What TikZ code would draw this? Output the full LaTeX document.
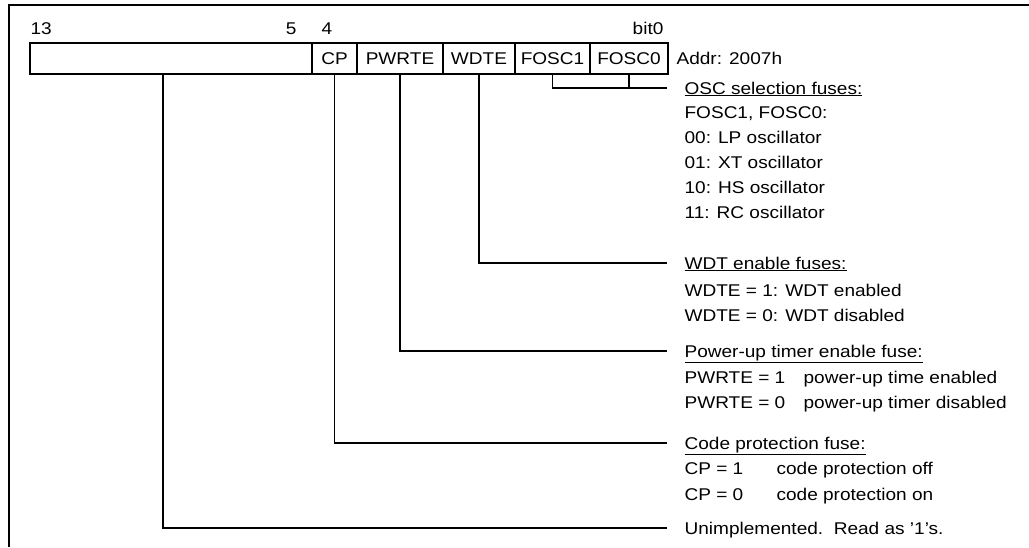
\documentclass[tikz,border=0pt]{standalone}
\usepackage{fontspec}
\setmainfont{Liberation Sans}[FakeStretch=1.12]
\usetikzlibrary{positioning}

\begin{document}
\begin{tikzpicture}[x=1pt, y=-1pt, line width=1.2pt]
\tikzstyle{cell} = [rectangle, draw, minimum height=31pt, inner sep=0pt, outer sep=0pt, font=\fontsize{17}{19}\selectfont]
\tikzstyle{txt} = [inner sep=0pt, anchor=base west, font=\fontsize{17}{19}\selectfont]
\tikzstyle{leader} = [line width=1.2pt]

\useasboundingbox (0,0) rectangle (1029,547);
\draw (1029,5) -- (9,5) -- (9,547);

% register cells
\node (unused) [cell, anchor=west, minimum width=282pt] at (30,58.5) {};
\node (cp) [cell, minimum width=45pt, right=0pt of unused] {CP};
\node (pwrte) [cell, minimum width=86pt, right=0pt of cp] {PWRTE};
\node (wdte) [cell, minimum width=72pt, right=0pt of pwrte] {WDTE};
\node (fosca) [cell, minimum width=75pt, right=0pt of wdte] {FOSC1};
\node (foscb) [cell, minimum width=78pt, right=0pt of fosca] {FOSC0};

% bit numbers
\node (b13) [txt] at (30,34) {13};
\node (b5) [txt, anchor=base east] at (297,34) {5};
\node (b4) [txt] at (321,34) {4};
\node (b0) [txt, anchor=base east] at (664,34) {bit0};
\node (addr) [txt] at (676,64) {Addr: 2007h};

% descriptions
\node (oschead) [txt] at (684,94) {\underline{OSC selection fuses:}};
\node (osc1) [txt] at (684,118) {FOSC1, FOSC0:};
\node (osc2) [txt] at (684,143) {00: LP oscillator};
\node (osc3) [txt] at (684,168) {01: XT oscillator};
\node (osc4) [txt] at (684,193) {10: HS oscillator};
\node (osc5) [txt] at (684,218) {11: RC oscillator};

\node (wdthead) [txt] at (684,269) {\underline{WDT enable fuses:}};
\node (wdt1) [txt] at (684,296) {WDTE = 1: WDT enabled};
\node (wdt2) [txt] at (684,321) {WDTE = 0: WDT disabled};

\node (pwrhead) [txt] at (684,357) {\underline{Power-up timer enable fuse:}};
\node (pwr1) [txt] at (684,383) {\makebox[119pt][l]{PWRTE = 1}power-up time enabled};
\node (pwr2) [txt] at (684,408) {\makebox[119pt][l]{PWRTE = 0}power-up timer disabled};

\node (cphead) [txt] at (684,449) {\underline{Code protection fuse:}};
\node (cp1) [txt] at (684,474) {\makebox[92pt][l]{CP = 1}code protection off};
\node (cp2) [txt] at (684,500) {\makebox[92pt][l]{CP = 0}code protection on};

\node (unimp) [txt] at (684,534) {Unimplemented.\ \ Read as '1's.};

% leaders
\coordinate (oscend) at ([xshift=-17pt,yshift=6pt]oschead.base west);
\draw[leader] (fosca.south) |- (oscend);
\draw[leader] (foscb.south) -- (foscb.south |- oscend);
\draw[leader] (wdte.south) |- ([xshift=-17pt,yshift=6pt]wdthead.base west);
\draw[leader] (pwrte.south) |- ([xshift=-17pt,yshift=6pt]pwrhead.base west);
\draw[leader] (cp.south) |- ([xshift=-17pt,yshift=6pt]cphead.base west);
\draw[leader] ([xshift=-8pt]unused.south) |- ([xshift=-17pt,yshift=6pt]unimp.base west);
\end{tikzpicture}
\end{document}
